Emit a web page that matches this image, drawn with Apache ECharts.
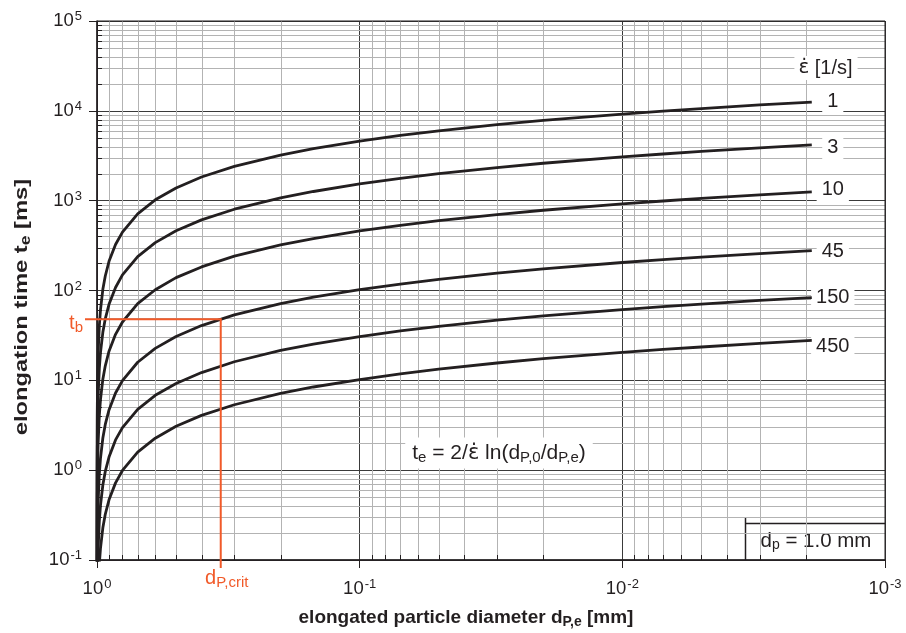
<!DOCTYPE html>
<html>
<head>
<meta charset="utf-8">
<title>elongation time</title>
<script src="https://cdn.jsdelivr.net/npm/echarts@6/dist/echarts.min.js"></script>
<style>
  html, body { margin: 0; padding: 0; background: #fff; }
  #chart { width: 906px; height: 633px; }
</style>
</head>
<body>
<div id="chart"></div>
<script>
// elongated particle diameter d_P,e [mm] (shared by all curves)
var diameters = [0.99995, 0.9999, 0.9998, 0.9995, 0.999, 0.998, 0.995, 0.99, 0.98, 0.97,
  0.95, 0.93, 0.9, 0.85, 0.8, 0.7, 0.6, 0.5, 0.4, 0.3, 0.2, 0.15, 0.1,
  0.07, 0.05, 0.03, 0.02, 0.01, 0.007, 0.005, 0.003, 0.0019];

// elongation time t_e [ms] per strain rate [1/s]
var rateNames = ['1', '3', '10', '45', '150', '450'];
var time1 = [0.1, 0.2, 0.4, 1.0, 2.0, 4.0, 10.0, 20.1, 40.4, 60.9, 103, 145, 211, 325, 446,
  713, 1022, 1386, 1833, 2408, 3219, 3794, 4605, 5319, 5991, 7013, 7824, 9210, 9924, 10600, 11620, 12530];
var time3 = [0.033, 0.067, 0.13, 0.33, 0.67, 1.33, 3.34, 6.7, 13.5, 20.3, 34.2, 48.4, 70.2, 108, 149,
  238, 341, 462, 611, 803, 1073, 1265, 1535, 1773, 1997, 2338, 2608, 3070, 3308, 3532, 3873, 4177];
var time10 = [0.01, 0.02, 0.04, 0.1, 0.2, 0.4, 1.0, 2.01, 4.04, 6.09, 10.3, 14.5, 21.1, 32.5, 44.6,
  71.3, 102, 139, 183, 241, 322, 379, 461, 532, 599, 701, 782, 921, 992, 1060, 1162, 1253];
var time45 = [0.0022, 0.0044, 0.0089, 0.022, 0.044, 0.089, 0.223, 0.447, 0.898, 1.35, 2.28, 3.23, 4.68, 7.22, 9.92,
  15.9, 22.7, 30.8, 40.7, 53.5, 71.5, 84.3, 102, 118, 133, 156, 174, 205, 221, 235, 258, 278];
var time150 = [0.00067, 0.0013, 0.0027, 0.0067, 0.0133, 0.0267, 0.0668, 0.134, 0.269, 0.406, 0.684, 0.968, 1.4, 2.17, 2.98,
  4.76, 6.81, 9.24, 12.2, 16.1, 21.5, 25.3, 30.7, 35.5, 39.9, 46.8, 52.2, 61.4, 66.2, 70.6, 77.5, 83.5];
var time450 = [0.00022, 0.00044, 0.00089, 0.0022, 0.0044, 0.0089, 0.0223, 0.0447, 0.0898, 0.135, 0.228, 0.323, 0.468, 0.722, 0.992,
  1.59, 2.27, 3.08, 4.07, 5.35, 7.15, 8.43, 10.2, 11.8, 13.3, 15.6, 17.4, 20.5, 22.1, 23.5, 25.8, 27.8];
var timeSeries = [time1, time3, time10, time45, time150, time450];

// critical point (orange)
var dCrit = 0.338;
var tB = 48;

// minor grid positions
var minorSteps = [2, 3, 4, 5, 6, 7, 8, 9];
var xDecades = [0.001, 0.01, 0.1];
var yDecades = [0.1, 1, 10, 100, 1000, 10000];

var xMinor = [];
xDecades.forEach(function (d) { minorSteps.forEach(function (m) { xMinor.push([d * m, 1]); }); });
var yMinor = [];
yDecades.forEach(function (d) { minorSteps.forEach(function (m) { yMinor.push([0.01, d * m]); }); });

var INK = '#231f20';
var ORANGE = '#f15a29';
var FONT = 'Liberation Sans, Arial, sans-serif';
var EPS = 'DejaVu Sans, sans-serif';

function powLabel(v) {
  var e = Math.round(Math.log10(v));
  return '{b|10}{sup|' + e + '}';
}

var powRich = {
  b: { fontSize: 18.5, color: INK, fontFamily: FONT },
  sup: { fontSize: 13, color: INK, fontFamily: FONT, verticalAlign: 'top', padding: [0, 0, 9, 1] }
};

function snap(v) { return Math.round(v) + 0.5; }

function minorRender(dir) {
  return function (params, api) {
    var cs = params.coordSys;
    var p = api.coord([api.value(0), api.value(1)]);
    if (dir === 'x') {
      var x = snap(p[0]);
      return { type: 'group', children: [
        { type: 'line', shape: { x1: x, y1: cs.y, x2: x, y2: cs.y + cs.height }, style: { stroke: '#b3b3b3', lineWidth: 1 } },
        { type: 'line', shape: { x1: x, y1: cs.y + cs.height, x2: x, y2: cs.y + cs.height - 5 }, style: { stroke: INK, lineWidth: 1 } }
      ] };
    }
    var y = snap(p[1]);
    return { type: 'group', children: [
      { type: 'line', shape: { x1: cs.x, y1: y, x2: cs.x + cs.width, y2: y }, style: { stroke: '#b3b3b3', lineWidth: 1 } },
      { type: 'line', shape: { x1: cs.x, y1: y, x2: cs.x + 5, y2: y }, style: { stroke: INK, lineWidth: 1 } }
    ] };
  };
}

// label centre relative to the curve end
var labelPos = [[21, -1], [21, 3], [21, -2], [21, 1], [21, 0], [21, 6]];

var series = [
  { type: 'custom', data: xMinor, renderItem: minorRender('x'), silent: true, z: 1, animation: false },
  { type: 'custom', data: yMinor, renderItem: minorRender('y'), silent: true, z: 1, animation: false }
];

timeSeries.forEach(function (vals, i) {
  var last = diameters.length - 1;
  series.push({
    name: rateNames[i],
    type: 'line',
    data: diameters.map(function (d, k) { return [d, vals[k]]; }),
    showSymbol: false,
    symbol: 'none',
    z: 5,
    lineStyle: { color: INK, width: 2.8 },
    markPoint: {
      silent: true,
      symbol: 'rect',
      symbolSize: 0,
      data: [{ coord: [diameters[last], vals[last]] }],
      label: {
        show: true,
        formatter: rateNames[i],
        position: labelPos[i],
        align: 'center',
        verticalAlign: 'middle',
        color: INK,
        fontSize: 20,
        fontFamily: FONT,
        backgroundColor: '#fff',
        padding: [2, 5, 1, 5]
      }
    },
    animation: false
  });
});

var subRich = function (size, sub, color, bold) {
  return {
    n: { fontSize: size, fill: color, fontFamily: FONT, fontWeight: bold ? 'bold' : 'normal' },
    s: { fontSize: sub, fill: color, fontFamily: FONT, fontWeight: bold ? 'bold' : 'normal', verticalAlign: 'bottom', padding: [Math.round(size * 0.45), 0, 0, 0] },
    e: { fontSize: size, fill: color, fontFamily: EPS }
  };
};

var chart = echarts.init(document.getElementById('chart'));
chart.setOption({
  backgroundColor: '#fff',
  animation: false,
  textStyle: { fontFamily: FONT },
  grid: { left: 97, right: 21, top: 21, bottom: 73, show: true, borderColor: INK, borderWidth: 1, z: 6 },
  xAxis: {
    type: 'log',
    logBase: 10,
    inverse: true,
    min: 0.001,
    max: 1,
    splitNumber: 3,
    axisLine: { lineStyle: { color: INK, width: 1.5 } },
    axisTick: { show: true, inside: false, length: 8, lineStyle: { color: INK, width: 1 } },
    axisLabel: { formatter: powLabel, rich: powRich, margin: 18 },
    splitLine: { show: true, lineStyle: { color: '#3a3a3a', width: 1 } }
  },
  yAxis: {
    type: 'log',
    logBase: 10,
    min: 0.1,
    max: 100000,
    splitNumber: 6,
    axisLine: { lineStyle: { color: INK, width: 1.5 } },
    axisTick: { show: true, inside: false, length: 8, lineStyle: { color: INK, width: 1 } },
    axisLabel: { formatter: powLabel, rich: powRich, margin: 15 },
    splitLine: { show: true, lineStyle: { color: '#3a3a3a', width: 1 } }
  },
  series: series
});

// pixel positions of the critical point, through the chart's own scales
var pCrit = chart.convertToPixel({ gridIndex: 0 }, [dCrit, tB]);
var pAxisY = chart.convertToPixel({ gridIndex: 0 }, [1, tB]);
var pAxisX = chart.convertToPixel({ gridIndex: 0 }, [dCrit, 0.1]);

chart.setOption({
  graphic: [
    // axis titles
    {
      type: 'text', x: 466, y: 618, z: 10,
      style: {
        text: '{n|elongated particle diameter d}{s|P,e}{n| [mm]}',
        align: 'center', verticalAlign: 'middle',
        rich: subRich(19, 14, INK, true)
      }
    },
    {
      type: 'text', x: 22, y: 307, z: 10, rotation: Math.PI / 2, scaleX: 1.25,
      style: {
        text: '{n|elongation time t}{s|e}{n| [ms]}',
        align: 'center', verticalAlign: 'middle',
        rich: subRich(19, 14, INK, true)
      }
    },
    // strain-rate header
    {
      type: 'text', x: 826, y: 68, z: 10,
      style: {
        text: '{e|ε̇}{n| [1/s]}',
        align: 'center', verticalAlign: 'middle',
        backgroundColor: '#fff', padding: [2, 5, 2, 4],
        rich: subRich(20, 14, INK, false)
      }
    },
    // formula
    {
      type: 'text', x: 499, y: 453, z: 10,
      style: {
        text: '{n|t}{s|e}{n| = 2/}{e|ε̇}{n| ln(d}{s|P,0}{n|/d}{s|P,e}{n|)}',
        align: 'center', verticalAlign: 'middle',
        backgroundColor: '#fff', padding: [4, 7, 3, 7],
        rich: subRich(21, 15, INK, false)
      }
    },
    // particle size box
    {
      type: 'group', z: 10,
      children: [
        { type: 'rect', shape: { x: 746, y: 524, width: 139, height: 36 }, style: { fill: '#fff' } },
        { type: 'line', shape: { x1: 745.5, y1: 517, x2: 745.5, y2: 560 }, style: { stroke: INK, lineWidth: 1.5 } },
        { type: 'line', shape: { x1: 745, y1: 523.5, x2: 885, y2: 523.5 }, style: { stroke: INK, lineWidth: 1.5 } },
        {
          type: 'text', x: 816, y: 541,
          style: {
            text: '{n|d}{s|p}{n| = 1.0 mm}',
            align: 'center', verticalAlign: 'middle',
            rich: subRich(20.5, 14, INK, false)
          }
        }
      ]
    },
    // orange construction lines
    {
      type: 'polyline', z: 8, silent: true,
      shape: { points: [[pAxisY[0] - 12, pCrit[1]], [pCrit[0], pCrit[1]], [pCrit[0], pAxisX[1] + 8]] },
      style: { stroke: ORANGE, lineWidth: 2, fill: null }
    },
    {
      type: 'text', x: pAxisY[0] - 14, y: pCrit[1] + 4, z: 10,
      style: {
        text: '{n|t}{s|b}',
        align: 'right', verticalAlign: 'middle',
        rich: subRich(20, 15, ORANGE, false)
      }
    },
    {
      type: 'text', x: pCrit[0] + 6, y: 578, z: 10,
      style: {
        text: '{n|d}{s|P,crit}',
        align: 'center', verticalAlign: 'middle',
        rich: subRich(20, 15, ORANGE, false)
      }
    }
  ]
});
</script>
</body>
</html>
